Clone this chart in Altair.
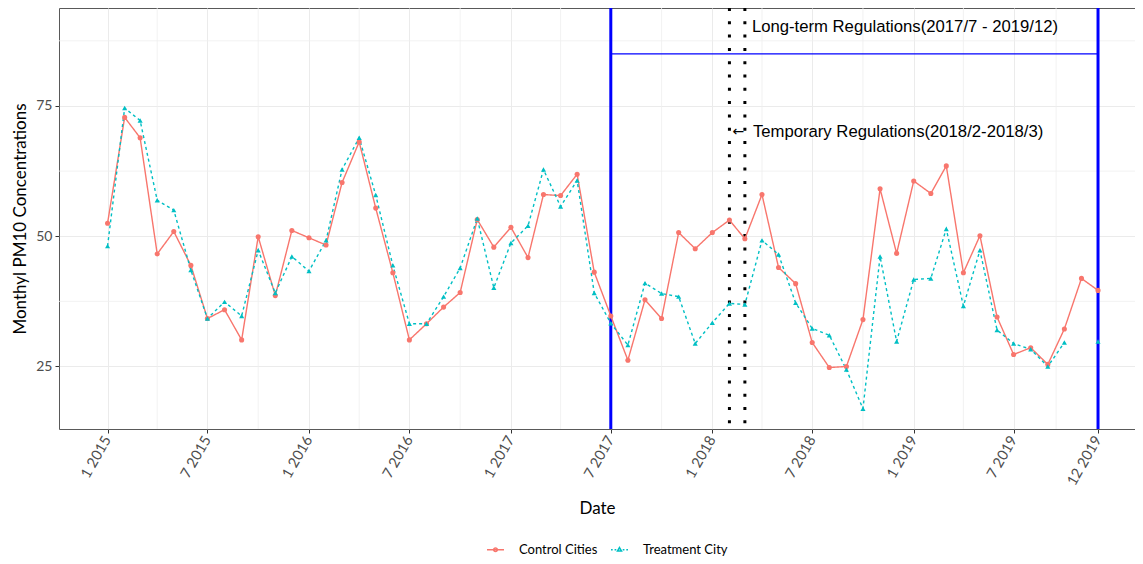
import altair as alt
import pandas as pd

# ---------------- data ----------------
months = [f"{y}-{m:02d}-01" for y in range(2015, 2020) for m in range(1, 13)]

control = [52.5, 72.8, 68.9, 46.6, 50.9, 44.4, 34.2, 35.9, 30.1, 49.9, 38.6, 51.1,
           49.7, 48.3, 60.3, 68.1, 55.4, 43.0, 30.1, 33.2, 36.4, 39.2, 53.2, 47.9,
           51.7, 45.9, 58.0, 57.8, 61.9, 43.1, 34.7, 26.2, 37.8, 34.2, 50.7, 47.6,
           50.7, 53.1, 49.5, 58.0, 44.0, 40.9, 29.6, 24.8, 25.0, 34.0, 59.1, 46.7,
           60.6, 58.2, 63.5, 43.0, 50.1, 34.5, 27.3, 28.6, 25.4, 32.2, 41.9, 39.6]

treatment = [48.1, 74.6, 72.2, 56.9, 55.0, 43.5, 34.2, 37.4, 34.7, 47.3, 39.1, 46.1,
             43.3, 49.2, 62.8, 68.9, 57.9, 44.4, 33.2, 33.2, 38.4, 43.9, 53.4, 40.1,
             48.7, 52.0, 62.8, 55.7, 60.7, 39.1, 33.3, 29.1, 41.0, 39.0, 38.4, 29.4,
             33.4, 37.1, 36.9, 49.2, 46.5, 37.2, 32.3, 31.0, 24.4, 16.9, 46.1, 29.8,
             41.7, 41.9, 51.4, 36.6, 47.3, 32.0, 29.4, 28.3, 25.0, 29.6, None, 29.8]

series_names = ["Control Cities", "Treatment City"]
series_colors = ["#F8766D", "#00BFC4"]

x_tick_dates = ["2015-01-01", "2015-07-01", "2016-01-01", "2016-07-01", "2017-01-01",
                "2017-07-01", "2018-01-01", "2018-07-01", "2019-01-01", "2019-07-01",
                "2019-12-01"]
x_minor_dates = ["2015-04-01", "2015-10-01", "2016-04-01", "2016-10-01", "2017-04-01",
                 "2017-10-01", "2018-04-01", "2018-10-01", "2019-04-01", "2019-09-16"]
x_domain = ["2014-10-05", "2020-02-06"]
y_ticks = [25, 50, 75]
y_minor = [37.5, 62.5, 87.5]
y_domain = [13.0, 93.8]

long_term = ["2017-07-01", "2019-12-01"]
temporary = ["2018-02-01", "2018-03-01"]
long_term_level = 85
label_long = "Long-term Regulations(2017/7 - 2019/12)"
label_long_y = 90.15
label_temp = "Temporary Regulations(2018/2-2018/3)"
label_temp_y = 70.0
arrow_label = "\u2190"

# legend key glyphs (line + marker)
legend_paths = [
    "M-1,0H1M0.22,0A0.22,0.22,0,1,1,-0.22,0A0.22,0.22,0,1,1,0.22,0Z",
    "M-1,0H-0.8M-0.58,0H-0.38M0.38,0H0.58M0.8,0H1M0,-0.26L0.24,0.16L-0.24,0.16Z",
]


def dt(s):
    y, m, d = map(int, s.split("-"))
    return alt.DateTime(year=y, month=m, date=d, utc=True)


df = pd.DataFrame({
    "date": months + months,
    "series": [series_names[0]] * len(months) + [series_names[1]] * len(months),
    "value": control + treatment,
})

AX_FONT = "Lato"
TXT_FONT = "Liberation Sans"

x_scale = alt.Scale(type="utc", domain=[dt(d) for d in x_domain])
y_scale = alt.Scale(domain=y_domain, nice=False, zero=False)

x_axis = alt.Axis(
    values=[dt(d) for d in x_tick_dates],
    labelExpr="(utcmonth(datum.value)+1) + ' ' + utcyear(datum.value)",
    labelAngle=-60, labelAlign="right", labelBaseline="middle",
    labelFont=AX_FONT, labelFontSize=14.5, labelColor="#4D4D4D", labelPadding=4,
    tickColor="#333333", tickSize=4, domain=False, labelOverlap=False,
    grid=True, gridColor="#EBEBEB", gridWidth=1,
    title="Date", titleFont=AX_FONT, titleFontSize=17, titleFontWeight="normal",
    titleColor="#000000", titlePadding=13,
)
y_axis = alt.Axis(
    values=y_ticks,
    labelFont=AX_FONT, labelFontSize=14, labelColor="#4D4D4D", labelPadding=3,
    tickColor="#333333", tickSize=4, domain=False,
    grid=True, gridColor="#EBEBEB", gridWidth=1,
    title="Monthyl PM10 Concentrations", titleFont=AX_FONT, titleFontSize=17,
    titleFontWeight="normal", titleColor="#000000", titlePadding=6,
)


def X(field="date"):
    return alt.X(f"{field}:T", scale=x_scale, axis=x_axis, title="Date")


def Y(field="value"):
    return alt.Y(f"{field}:Q", scale=y_scale, axis=y_axis, title="Monthyl PM10 Concentrations")


# minor grid
minor_x = alt.Chart(pd.DataFrame({"date": x_minor_dates})).mark_rule(
    color="#EFEFEF", strokeWidth=0.8
).encode(x=X())

minor_y = alt.Chart(pd.DataFrame({"value": y_minor})).mark_rule(
    color="#EFEFEF", strokeWidth=0.8
).encode(y=Y())

# annotation rules
blue_v = alt.Chart(pd.DataFrame({"date": long_term})).mark_rule(
    color="#0000FF", strokeWidth=3
).encode(x=X())

blue_h = alt.Chart(pd.DataFrame({"date": [long_term[0]], "date2": [long_term[1]],
                                 "value": [long_term_level]})).mark_rule(
    color="#0000FF", strokeWidth=1.3
).encode(x=X(), x2="date2:T", y=Y())

dotted_v = alt.Chart(pd.DataFrame({"date": temporary})).mark_rule(
    color="#000000", strokeWidth=3, strokeDash=[3, 10.3], strokeCap="butt"
).encode(x=X())

# data
lines = alt.Chart(df).mark_line(strokeWidth=1.4).encode(
    x=X(), y=Y(),
    color=alt.Color("series:N", scale=alt.Scale(domain=series_names, range=series_colors), legend=None),
    strokeDash=alt.StrokeDash("series:N", scale=alt.Scale(domain=series_names, range=[[1, 0], [3, 3]]), legend=None),
)

points = alt.Chart(df).mark_point(filled=True, opacity=1, size=26).encode(
    x=X(), y=Y(),
    color=alt.Color("series:N", scale=alt.Scale(domain=series_names, range=series_colors), legend=None),
    shape=alt.Shape("series:N", scale=alt.Scale(domain=series_names, range=["circle", "triangle-up"]), legend=None),
)

legend_def = alt.Legend(
    orient="none", legendX=427, legendY=532, direction="horizontal", title=None,
    symbolSize=289, symbolStrokeWidth=1.5, symbolOpacity=1,
    labelFont=AX_FONT, labelFontSize=13, labelColor="#000000", labelOffset=14,
    columnPadding=10, padding=0,
)
legend_layer = alt.Chart(df).mark_point(filled=False, opacity=0, strokeWidth=1.5).encode(
    x=X(), y=Y(),
    color=alt.Color("series:N", scale=alt.Scale(domain=series_names, range=series_colors), legend=legend_def),
    shape=alt.Shape("series:N", scale=alt.Scale(domain=series_names, range=legend_paths), legend=legend_def),
)

# texts
txt_long = alt.Chart(pd.DataFrame({"date": [temporary[1]], "value": [label_long_y], "label": [label_long]})).mark_text(
    align="left", baseline="middle", font=TXT_FONT, fontSize=16.7, color="#000000", dx=7
).encode(x=X(), y=Y(), text="label:N")

txt_temp = alt.Chart(pd.DataFrame({"date": [temporary[1]], "value": [label_temp_y], "label": [label_temp]})).mark_text(
    align="left", baseline="middle", font=TXT_FONT, fontSize=16.7, color="#000000", dx=8
).encode(x=X(), y=Y(), text="label:N")

txt_arrow = alt.Chart(pd.DataFrame({"date": [temporary[0]], "value": [label_temp_y], "label": [arrow_label]})).mark_text(
    align="center", baseline="middle", font="DejaVu Sans", fontSize=14, color="#000000", dx=9
).encode(x=X(), y=Y(), text="label:N")

chart = alt.layer(
    minor_x, minor_y, blue_v, blue_h, dotted_v, lines, points, legend_layer,
    txt_long, txt_temp, txt_arrow
).resolve_scale(
    color="independent", shape="independent"
).properties(
    width=1076, height=421,
    autosize=alt.AutoSizeParams(type="none"),
    padding={"left": 51, "top": 0, "right": 0, "bottom": 127},
).configure_view(
    stroke="#595959", strokeWidth=1
)

chart.save("out.html", embed_options={"renderer": "svg", "actions": False})
